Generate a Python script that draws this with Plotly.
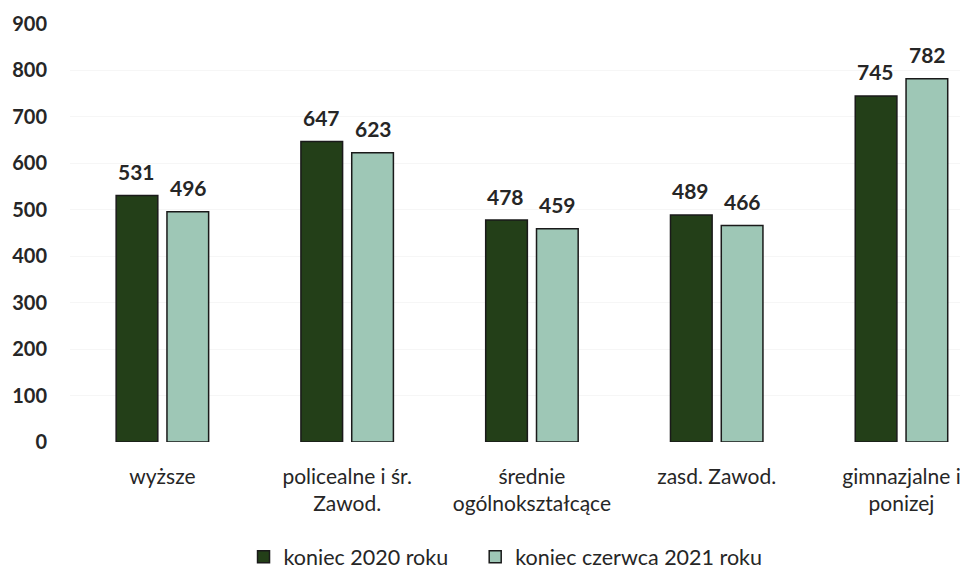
import plotly.graph_objects as go

# Categories and series values
categories = ['wyższe', 'policealne i śr.<br>Zawod.', 'średnie<br>ogólnokształcące',
              'zasd. Zawod.', 'gimnazjalne i<br>ponizej']
end_2020 = [531, 647, 478, 489, 745]
end_june_2021 = [496, 623, 459, 466, 782]
y_ticks = [0, 100, 200, 300, 400, 500, 600, 700, 800, 900]

dark_green = '#233f18'
light_green = '#9ec7b6'
text_color = '#262626'

fig = go.Figure()
fig.add_trace(go.Bar(x=categories, y=end_2020, name='koniec 2020 roku' + '\u00a0' * 4,
                     marker=dict(color=dark_green, line=dict(color='#1a1a1a', width=1.5))))
fig.add_trace(go.Bar(x=categories, y=end_june_2021, name='koniec czerwca 2021 roku',
                     marker=dict(color=light_green, line=dict(color='#1a1a1a', width=1.5))))

# Value labels above the bars
for series, shift in [(end_2020, -26), (end_june_2021, 26)]:
    for cat, val in zip(categories, series):
        fig.add_annotation(x=cat, y=val, text=f'<b>{val}</b>', showarrow=False,
                           xshift=shift, yshift=24, yanchor='middle',
                           font=dict(family='Lato', size=21, color=text_color))

# page body has an 8px margin, so the figure is a bit smaller than the window
fig.update_layout(width=960, height=564,
                  margin=dict(l=62, r=0, t=16, b=130, autoexpand=False),
                  paper_bgcolor='white', plot_bgcolor='white',
                  barmode='group', bargap=0.45, bargroupgap=0.18,
                  font=dict(family='Lato', color=text_color),
                  showlegend=True,
                  legend=dict(orientation='h', x=0.485, xanchor='center',
                              yref='container', y=0.027, yanchor='middle',
                              font=dict(size=21.5, color=text_color),
                              itemwidth=30, traceorder='normal'))

fig.update_xaxes(range=[-0.5, 4.36], showline=False, ticks='', showgrid=False, automargin=False,
                 tickfont=dict(size=21, color=text_color), ticklabelstandoff=20)
fig.update_yaxes(range=[0, 900], tickvals=y_ticks, showgrid=True, gridcolor='#f6f6f6',
                 zeroline=False, showline=False, ticks='', automargin=False,
                 tickfont=dict(size=20, color=text_color, weight='bold'), ticklabelstandoff=22)

fig.write_html("out.html")
